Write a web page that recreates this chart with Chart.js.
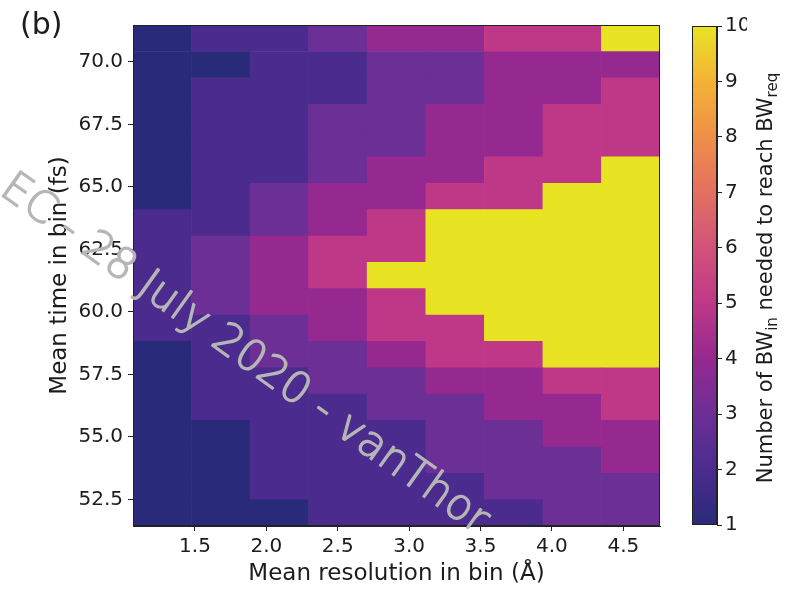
<!DOCTYPE html>
<html>
<head>
<meta charset="utf-8">
<script src="https://cdn.jsdelivr.net/npm/chart.js@4/dist/chart.umd.min.js"></script>
<style>
  html, body { margin: 0; padding: 0; background: #fff; }
  #wrap { position: relative; width: 788px; height: 591px; overflow: hidden; background: #fff; }
  #main { position: absolute; left: 0; top: 0; }
  #cbar { position: absolute; left: 680px; top: 0; }
</style>
</head>
<body>
<div id="wrap">
  <canvas id="main" width="680" height="591"></canvas>
  <canvas id="cbar" width="108" height="591"></canvas>
</div>
<script>
// Resolution bins (Å): centres of the nine columns and the outer limits of the grid
const resolutionBins = [1.271, 1.681, 2.091, 2.501, 2.911, 3.322, 3.732, 4.142, 4.552];
const resolutionRange = [1.066, 4.757];

// Time bin edges (fs), lowest to highest
const timeEdges = [51.44, 52.49, 53.55, 54.60, 55.66, 56.71, 57.76, 58.82, 59.87, 60.93,
                   61.98, 63.03, 64.09, 65.14, 66.20, 67.25, 68.30, 69.36, 70.41, 71.47];

// Number of BW_in needed to reach BW_req; one row per time bin, highest time first
const bwNeeded = [
  [1, 2, 2, 3, 4, 4, 5, 5, 10],
  [1, 1, 2, 2, 3, 3, 4, 4, 4],
  [1, 2, 2, 2, 3, 3, 4, 4, 5],
  [1, 2, 2, 3, 3, 4, 4, 5, 5],
  [1, 2, 2, 3, 3, 4, 4, 5, 5],
  [1, 2, 2, 3, 4, 4, 5, 5, 10],
  [1, 2, 3, 4, 4, 5, 5, 10, 10],
  [2, 2, 3, 4, 5, 10, 10, 10, 10],
  [2, 3, 4, 5, 5, 10, 10, 10, 10],
  [2, 3, 4, 5, 10, 10, 10, 10, 10],
  [2, 3, 4, 4, 5, 10, 10, 10, 10],
  [2, 2, 3, 4, 5, 5, 10, 10, 10],
  [1, 2, 3, 3, 4, 5, 5, 10, 10],
  [1, 2, 2, 3, 3, 4, 4, 5, 5],
  [1, 2, 2, 2, 3, 3, 4, 4, 5],
  [1, 1, 2, 2, 2, 3, 3, 4, 4],
  [1, 1, 2, 2, 2, 3, 3, 3, 4],
  [1, 1, 2, 2, 2, 2, 3, 3, 3],
  [1, 1, 1, 2, 2, 2, 2, 3, 3]
];

// Tick labels
const xTicks = [1.5, 2.0, 2.5, 3.0, 3.5, 4.0, 4.5];
const yTicks = [52.5, 55.0, 57.5, 60.0, 62.5, 65.0, 67.5, 70.0];
const cbTicks = [1, 2, 3, 4, 5, 6, 7, 8, 9, 10];

// Plasma-like colour scale, one stop per integer value from 1 to 10
const cmapStops = ['#2a2a7a', '#4b2c8e', '#6c2f96', '#95298f', '#bf3888',
                   '#d2527a', '#e46f60', '#ef8f48', '#f3b234', '#e8e424'];
const cmin = 1, cmax = 10;

function hexToRgb(h) {
  const n = parseInt(h.slice(1), 16);
  return [(n >> 16) & 255, (n >> 8) & 255, n & 255];
}
function colourFor(v) {
  const t = Math.max(0, Math.min(1, (v - cmin) / (cmax - cmin))) * (cmapStops.length - 1);
  const i = Math.min(cmapStops.length - 2, Math.floor(t));
  const f = t - i;
  const a = hexToRgb(cmapStops[i]), b = hexToRgb(cmapStops[i + 1]);
  const c = a.map((x, k) => Math.round(x + (b[k] - x) * f));
  return `rgb(${c[0]},${c[1]},${c[2]})`;
}

// One floating bar per cell: x at the resolution bin centre, y spanning the time bin
const cells = [];
bwNeeded.forEach((row, i) => {
  const r = timeEdges.length - 2 - i;
  row.forEach((v, c) => {
    cells.push({ x: resolutionBins[c], y: [timeEdges[r], timeEdges[r + 1]], v });
  });
});

const FONT = "'DejaVu Sans', 'Liberation Sans', sans-serif";
const INK = '#1c1c1c';
Chart.defaults.font.family = FONT;
Chart.defaults.color = INK;

const framePlugin = {
  id: 'frame',
  afterDraw(chart) {
    const { ctx, chartArea: a } = chart;
    ctx.save();
    ctx.strokeStyle = '#222';
    ctx.lineWidth = 1;
    ctx.strokeRect(Math.round(a.left) + 0.5, Math.round(a.top) + 0.5,
                   Math.round(a.right - a.left) - 1, Math.round(a.bottom - a.top) - 1);
    ctx.restore();
  }
};

const watermarkPlugin = {
  id: 'watermark',
  afterDraw(chart) {
    const ctx = chart.ctx;
    const text = 'EC - 28 July 2020 - vanThor';
    ctx.save();
    ctx.translate(244, 355);
    ctx.rotate(35.5 * Math.PI / 180);
    ctx.font = `200 43px ${FONT}`;
    ctx.fillStyle = '#b6b6b6';
    ctx.strokeStyle = '#b6b6b6';
    ctx.lineWidth = 1.4;
    ctx.lineJoin = 'round';
    ctx.textAlign = 'center';
    ctx.textBaseline = 'middle';
    ctx.fillText(text, 0, 0);
    ctx.strokeText(text, 0, 0);
    ctx.restore();
  }
};

const panelLabelPlugin = {
  id: 'panelLabel',
  afterDraw(chart) {
    const ctx = chart.ctx;
    ctx.save();
    ctx.font = `30px ${FONT}`;
    ctx.fillStyle = INK;
    ctx.textAlign = 'left';
    ctx.textBaseline = 'alphabetic';
    ctx.fillText('(b)', 20, 34);
    ctx.restore();
  }
};

new Chart(document.getElementById('main'), {
  type: 'bar',
  data: {
    datasets: [{
      data: cells,
      backgroundColor: (ctx) => colourFor(ctx.raw.v),
      borderWidth: 0,
      barPercentage: 1,
      categoryPercentage: 1
    }]
  },
  options: {
    responsive: false,
    animation: false,
    devicePixelRatio: 1,
    layout: { padding: { top: 25, right: 20, bottom: 0, left: 0 } },
    plugins: { legend: { display: false }, tooltip: { enabled: false } },
    scales: {
      x: {
        type: 'linear',
        min: resolutionRange[0],
        max: resolutionRange[1],
        offset: false,
        afterBuildTicks: (s) => { s.ticks = xTicks.map((value) => ({ value })); },
        afterFit: (s) => { s.height = 65; },
        ticks: {
          callback: (v) => Number(v).toFixed(1),
          font: { size: 20 }, color: INK, padding: 4,
          maxRotation: 0, autoSkip: false
        },
        grid: { offset: false, drawOnChartArea: false, drawTicks: true, tickLength: 5, tickColor: '#222', tickWidth: 1 },
        border: { display: true, color: '#222', width: 1 },
        title: {
          display: true, text: 'Mean resolution in bin (Å)',
          font: { size: 23 }, color: INK, padding: { top: 0, bottom: 3 }
        }
      },
      y: {
        type: 'linear',
        min: timeEdges[0],
        max: timeEdges[timeEdges.length - 1],
        afterBuildTicks: (s) => { s.ticks = yTicks.map((value) => ({ value })); },
        afterFit: (s) => { s.width = 133; },
        ticks: {
          callback: (v) => Number(v).toFixed(1),
          font: { size: 20 }, color: INK, padding: 5, autoSkip: false
        },
        grid: { drawOnChartArea: false, drawTicks: true, tickLength: 5, tickColor: '#222', tickWidth: 1 },
        border: { display: true, color: '#222', width: 1 },
        title: {
          display: true, text: 'Mean time in bin (fs)',
          font: { size: 23 }, color: INK, padding: { top: 46, bottom: 0 }
        }
      }
    }
  },
  plugins: [framePlugin, watermarkPlugin, panelLabelPlugin]
});

// Colour bar label with subscripts, drawn rotated beside the colour bar ticks
const cbLabelPlugin = {
  id: 'cbLabel',
  afterDraw(chart) {
    const ctx = chart.ctx;
    const parts = [['Number of BW', false], ['in', true], [' needed to reach BW', false], ['req', true]];
    const big = 21, small = 15;
    ctx.save();
    let total = 0;
    const widths = parts.map(([t, sub]) => {
      ctx.font = `${sub ? small : big}px ${FONT}`;
      const w = ctx.measureText(t).width;
      total += w;
      return w;
    });
    ctx.translate(92, 278);
    ctx.rotate(-Math.PI / 2);
    ctx.fillStyle = INK;
    ctx.textAlign = 'left';
    ctx.textBaseline = 'alphabetic';
    let x = -total / 2;
    parts.forEach(([t, sub], i) => {
      ctx.font = `${sub ? small : big}px ${FONT}`;
      ctx.fillText(t, x, sub ? 5 : 0);
      x += widths[i];
    });
    ctx.restore();
  }
};

new Chart(document.getElementById('cbar'), {
  type: 'bar',
  data: {
    labels: ['colour'],
    datasets: [{
      data: [[cmin, cmax]],
      backgroundColor: (ctx) => {
        const chart = ctx.chart;
        const ys = chart.scales.y;
        if (!chart.chartArea || !ys) return cmapStops[0];
        const g = chart.ctx.createLinearGradient(0, ys.getPixelForValue(cmin), 0, ys.getPixelForValue(cmax));
        cmapStops.forEach((c, i) => g.addColorStop(i / (cmapStops.length - 1), c));
        return g;
      },
      borderWidth: 0,
      barPercentage: 1,
      categoryPercentage: 1
    }]
  },
  options: {
    responsive: false,
    animation: false,
    devicePixelRatio: 1,
    layout: { padding: { top: 26, right: 41, bottom: 66, left: 12 } },
    plugins: { legend: { display: false }, tooltip: { enabled: false } },
    scales: {
      x: { display: false },
      y: {
        position: 'right',
        min: cmin,
        max: cmax,
        afterBuildTicks: (s) => { s.ticks = cbTicks.map((value) => ({ value })); },
        afterFit: (s) => { s.width = 30; },
        ticks: { font: { size: 20 }, color: INK, padding: 3, autoSkip: false },
        grid: { drawOnChartArea: false, drawTicks: true, tickLength: 5, tickColor: '#222', tickWidth: 1 },
        border: { display: true, color: '#222', width: 1 }
      }
    }
  },
  plugins: [framePlugin, cbLabelPlugin]
});
</script>
</body>
</html>
